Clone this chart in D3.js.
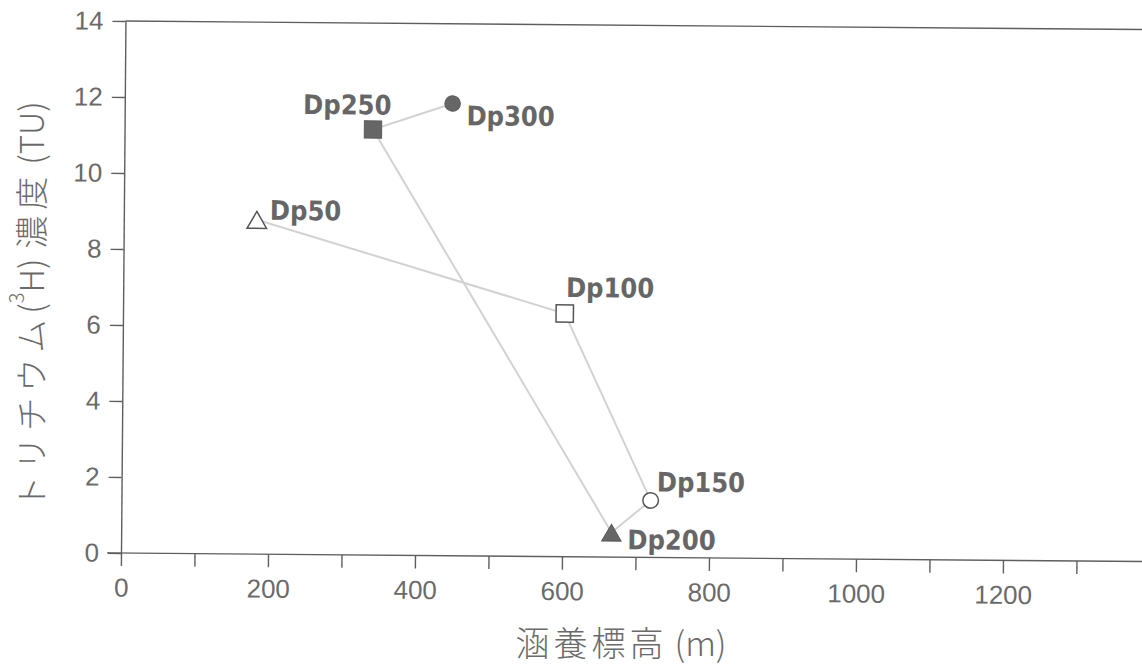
<!DOCTYPE html>
<html>
<head>
<meta charset="utf-8">
<script src="https://cdn.jsdelivr.net/npm/d3@7"></script>
<style>
  body { margin: 0; background: #fff; }
  svg { display: block; }
</style>
</head>
<body>
<svg id="chart" width="1142" height="667"></svg>
<script>
// Sampling points, in drilling order
const sampleLabels = ["Dp50", "Dp100", "Dp150", "Dp200", "Dp250", "Dp300"];
const elevation = [181, 601, 720, 667, 338, 446];      // 涵養標高 (m)
const tritium = [8.8, 6.4, 1.5, 0.65, 11.2, 11.9];      // トリチウム濃度 (TU)
const markerShapes = ["triangle", "square", "circle", "triangle", "square", "circle"];
const markerFilled = [false, false, false, true, true, true];

const xTickValues = d3.range(0, 1400, 100);
const yTickValues = [0, 2, 4, 6, 8, 10, 12, 14];

// Label placement next to each marker (pixels)
const labelOffsets = [[13, 0], [1, -16.5], [6, -9], [16, 16.6], [-70, -15], [14, 21.6]];

const svg = d3.select("#chart");
const origin = { x: 121, y: 553 };

const x = d3.scaleLinear().domain([0, 1400]).range([origin.x, origin.x + 1029]);
const y = d3.scaleLinear().domain([0, 14]).range([origin.y, 21]);

const ink = "#5e5e5e";
const textInk = "#6a6a6a";

const g = svg.append("g")
  .attr("transform", `rotate(0.48, ${origin.x}, ${origin.y})`);

// Frame top line
g.append("line")
  .attr("x1", x(0)).attr("x2", x(1400))
  .attr("y1", y(14)).attr("y2", y(14))
  .attr("stroke", ink).attr("stroke-width", 1.4);

// X axis
const xAxis = g.append("g")
  .attr("transform", `translate(0, ${y(0)})`)
  .call(d3.axisBottom(x)
    .tickValues(xTickValues)
    .tickSize(13)
    .tickSizeOuter(0)
    .tickPadding(12)
    .tickFormat(d => d % 200 === 0 ? d : ""));
xAxis.select(".domain").attr("d", `M${x(0) - 14},0H${x(1400)}`);

// Y axis
const yAxis = g.append("g")
  .attr("transform", `translate(${x(0)}, 0)`)
  .call(d3.axisLeft(y)
    .tickValues(yTickValues)
    .tickSize(13)
    .tickSizeOuter(0)
    .tickPadding(9));

[xAxis, yAxis].forEach(a => {
  a.selectAll(".domain, .tick line").attr("stroke", ink).attr("stroke-width", 1.4);
  a.selectAll(".tick text")
    .attr("fill", textInk)
    .style("font-family", "'Liberation Sans', Arial, sans-serif")
    .style("font-size", "26px");
});

// Connecting line
const points = elevation.map((e, i) => ({
  label: sampleLabels[i], x: e, y: tritium[i],
  shape: markerShapes[i], filled: markerFilled[i], off: labelOffsets[i]
}));

g.append("path")
  .datum(points)
  .attr("fill", "none")
  .attr("stroke", "#d2d2d2")
  .attr("stroke-width", 2)
  .attr("d", d3.line().x(d => x(d.x)).y(d => y(d.y)));

// Markers
const symbolFor = { triangle: d3.symbolTriangle, square: d3.symbolSquare, circle: d3.symbolCircle };
const symbolSize = { triangle: 165, square: 300, circle: 190 };
const symbolShift = { triangle: 3, square: 0, circle: 0 };

g.selectAll(".marker")
  .data(points)
  .join("path")
  .attr("class", "marker")
  .attr("transform", d => `translate(${x(d.x)}, ${y(d.y) + symbolShift[d.shape]})`)
  .attr("d", d => d3.symbol(symbolFor[d.shape], symbolSize[d.shape])())
  .attr("fill", d => d.filled ? "#666" : "#fff")
  .attr("stroke", d => d.filled ? "#5a5a5a" : "#555")
  .attr("stroke-width", d => d.filled ? 1 : 1.5);

// Point labels
g.selectAll(".point-label")
  .data(points)
  .join("text")
  .attr("class", "point-label")
  .attr("x", d => x(d.x) + d.off[0])
  .attr("y", d => y(d.y) + d.off[1])
  .attr("fill", "#666")
  .style("font-family", "'DejaVu Sans Condensed', 'DejaVu Sans', sans-serif")
  .style("font-weight", "bold")
  .style("font-size", "27px")
  .text(d => d.label);

// Axis titles: wider pitch for the kanji/kana runs, normal for Latin parts
const xTitle = svg.append("text")
  .attr("x", 621)
  .attr("y", 656)
  .attr("text-anchor", "middle")
  .attr("fill", textInk)
  .style("font-family", "'Noto Sans CJK JP', sans-serif")
  .style("font-weight", 300)
  .style("font-size", "34px");
xTitle.append("tspan").style("letter-spacing", "4px").text("涵養標高");
xTitle.append("tspan").attr("dx", 7).text("(m)");

const yTitle = svg.append("text")
  .attr("transform", "translate(30, 305) rotate(-90)")
  .attr("text-anchor", "middle")
  .attr("dominant-baseline", "central")
  .attr("fill", textInk)
  .style("font-family", "'Noto Sans CJK JP', sans-serif")
  .style("font-weight", 300)
  .style("font-size", "33px");
yTitle.append("tspan").style("letter-spacing", "6px").text("トリチウム");
yTitle.append("tspan").text("(");
yTitle.append("tspan").attr("baseline-shift", "super").style("font-size", "20px").text("3");
yTitle.append("tspan").attr("baseline-shift", "0").text("H)");
yTitle.append("tspan").attr("dx", 10).style("letter-spacing", "6px").text("濃度");
yTitle.append("tspan").attr("dx", 6).text("(TU)");
</script>
</body>
</html>
